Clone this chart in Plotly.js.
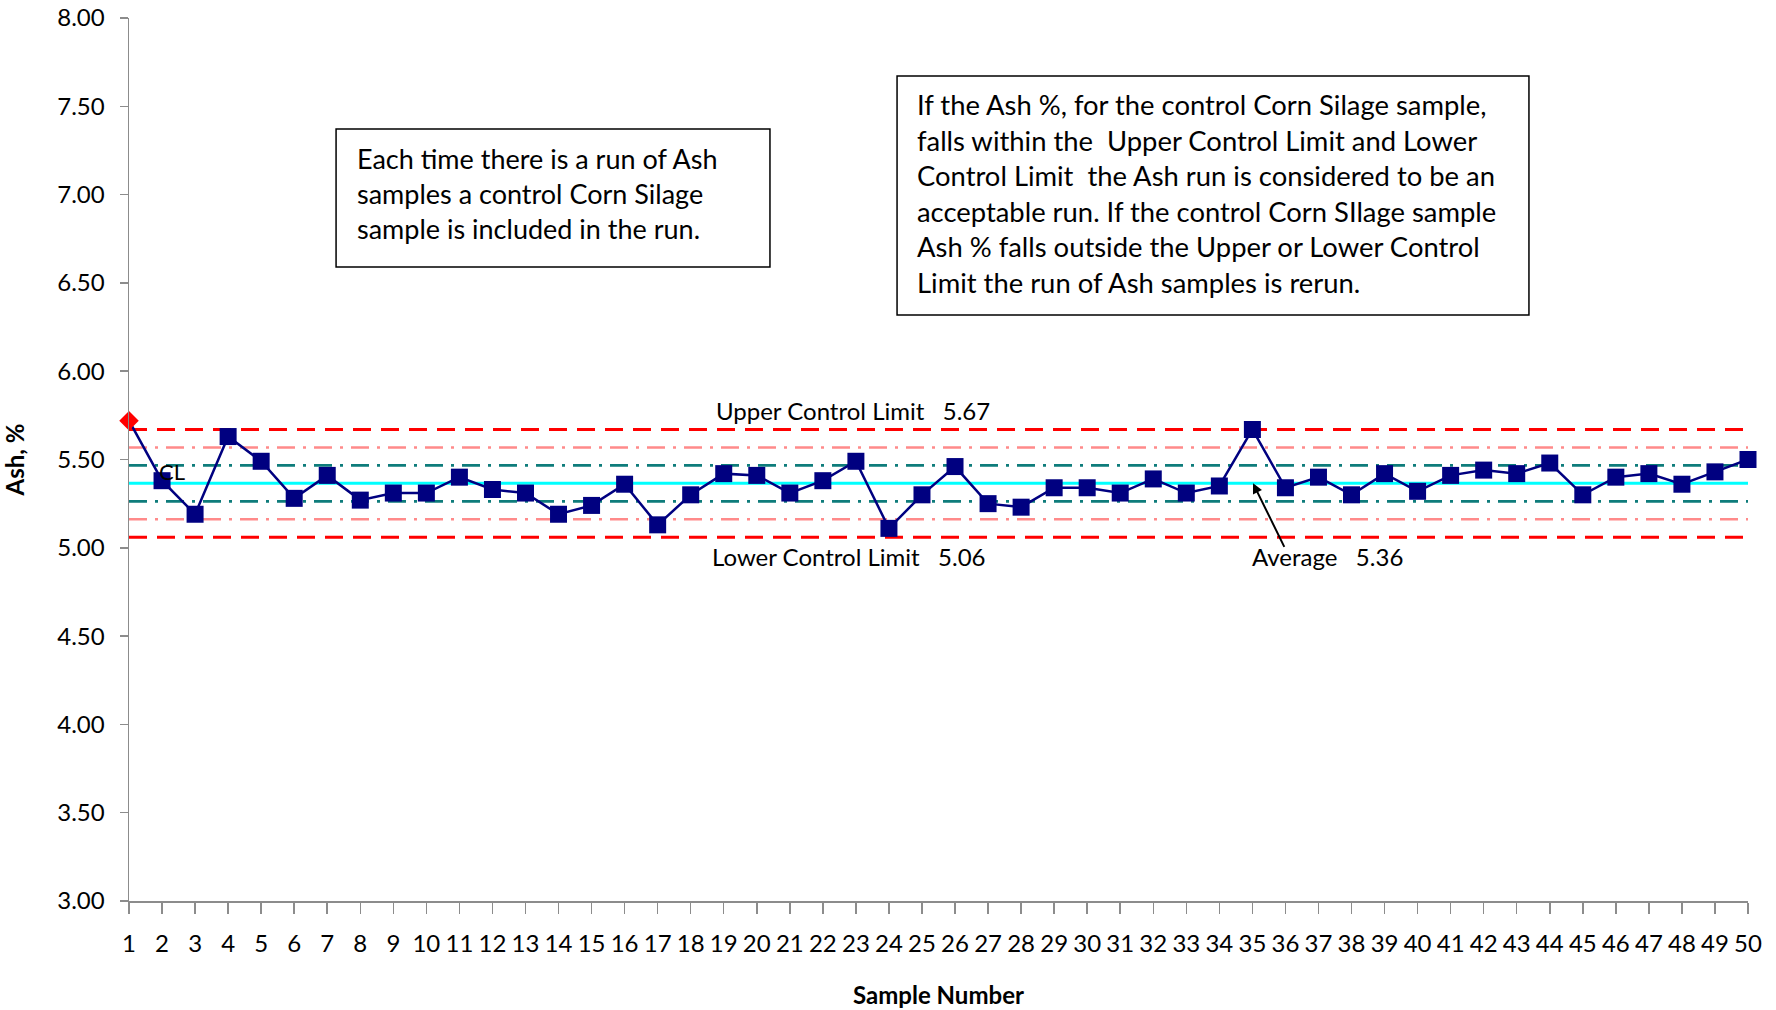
<!DOCTYPE html>
<html>
<head>
<meta charset="utf-8">
<script src="https://cdn.plot.ly/plotly-3.0.1.min.js"></script>
<style>
  html, body { margin: 0; padding: 0; background: #ffffff; }
  #chart { width: 1776px; height: 1010px; }
</style>
</head>
<body>
<div id="chart"></div>
<script>
// ---- data ----
const samples = [1,2,3,4,5,6,7,8,9,10,11,12,13,14,15,16,17,18,19,20,21,22,23,24,25,
                 26,27,28,29,30,31,32,33,34,35,36,37,38,39,40,41,42,43,44,45,46,47,48,49,50];
const ash = [5.72,5.38,5.19,5.63,5.49,5.28,5.41,5.27,5.31,5.31,
             5.40,5.33,5.31,5.19,5.24,5.36,5.13,5.30,5.42,5.41,
             5.31,5.38,5.49,5.11,5.30,5.46,5.25,5.23,5.34,5.34,
             5.31,5.39,5.31,5.35,5.67,5.34,5.40,5.30,5.42,5.32,
             5.41,5.44,5.42,5.48,5.30,5.40,5.42,5.36,5.43,5.50];
const average = 5.365;
const ucl = 5.67;
const lcl = 5.06;
const plus2s = 5.568;
const minus2s = 5.162;
const plus1s = 5.467;
const minus1s = 5.263;
const yTicks = [3.00,3.50,4.00,4.50,5.00,5.50,6.00,6.50,7.00,7.50,8.00];

const FONT = 'Lato, "Open Sans", sans-serif';
const flat = v => samples.map(() => v);

function limitTrace(v, color, dash, width) {
  return { x: samples, y: flat(v), type: 'scatter', mode: 'lines',
           line: { color: color, dash: dash, width: width }, hoverinfo: 'skip', showlegend: false };
}

const dashDot = '18px,8px,3px,8px';
const isOut = v => (v > ucl || v < lcl);
const traces = [
  limitTrace(plus2s, '#FF8A8A', dashDot, 2.5),
  limitTrace(minus2s, '#FF8A8A', dashDot, 2.5),
  limitTrace(plus1s, '#0E7C7B', dashDot, 2.7),
  limitTrace(minus1s, '#0E7C7B', dashDot, 2.7),
  limitTrace(ucl, '#FF0000', '18px,10px', 3),
  limitTrace(lcl, '#FF0000', '18px,10px', 3),
  limitTrace(average, '#00FFFF', 'solid', 3),
  {
    x: samples, y: ash, type: 'scatter', mode: 'lines+markers',
    line: { color: '#000080', width: 2.5 },
    marker: {
      symbol: ash.map(v => isOut(v) ? 'diamond' : 'square'),
      color: ash.map(v => isOut(v) ? '#FF0000' : '#000080'),
      size: ash.map(v => isOut(v) ? 15 : 17),
      opacity: 1,
      line: { width: 0 }
    },
    opacity: 1,
    cliponaxis: false, showlegend: false, hoverinfo: 'skip'
  }
];

const nb = '\u00a0';
const annFont = { family: FONT, size: 24, color: '#000000' };
const boxFont = { family: FONT, size: 27, color: '#000000' };

const layout = {
  width: 1776, height: 1010,
  margin: { l: 129, r: 28, t: 18, b: 109, pad: 0 },
  paper_bgcolor: '#ffffff', plot_bgcolor: '#ffffff',
  showlegend: false,
  font: { family: FONT, color: '#000000' },
  xaxis: {
    range: [1, 50], tickmode: 'array', tickvals: samples, ticktext: samples.map(String),
    tickangle: 0, showgrid: false, zeroline: false,
    showline: true, linecolor: '#8C8C8C', linewidth: 1.5,
    ticks: 'outside', ticklen: 11, tickwidth: 1.5, tickcolor: '#8C8C8C',
    tickfont: { family: FONT, size: 24, color: '#000000' },
    ticklabelstandoff: 10,
    title: { text: 'Sample Number', font: { family: FONT, size: 24, color: '#000000', weight: 'bold' }, standoff: 31 }
  },
  yaxis: {
    range: [3, 8], tickmode: 'array', tickvals: yTicks, ticktext: yTicks.map(v => v.toFixed(2)),
    showgrid: false, zeroline: false,
    showline: true, linecolor: '#8C8C8C', linewidth: 1.5,
    ticks: 'outside', ticklen: 8, tickwidth: 1.5, tickcolor: '#8C8C8C',
    tickfont: { family: FONT, size: 24, color: '#000000' },
    ticklabelstandoff: 10,
    title: { text: 'Ash, %', font: { family: FONT, size: 24, color: '#000000', weight: 'bold' }, standoff: 34 }
  },
  shapes: [
    { type: 'rect', xref: 'paper', yref: 'paper', x0: 0.1279, x1: 0.3959, y0: 0.718, y1: 0.8743,
      line: { color: '#000000', width: 1.5 }, fillcolor: 'rgba(0,0,0,0)' },
    { type: 'rect', xref: 'paper', yref: 'paper', x0: 0.4744, x1: 0.8647, y0: 0.6636, y1: 0.9343,
      line: { color: '#000000', width: 1.5 }, fillcolor: 'rgba(0,0,0,0)' }
  ],
  annotations: [
    { xref: 'paper', yref: 'paper', x: 0.1395, y: 0.8622, xanchor: 'left', yanchor: 'top', align: 'left',
      showarrow: false, font: boxFont,
      text: 'Each time there is a run of Ash<br>samples a control Corn Silage<br>sample is included in the run.' },
    { xref: 'paper', yref: 'paper', x: 0.4857, y: 0.9235, xanchor: 'left', yanchor: 'top', align: 'left',
      showarrow: false, font: { family: FONT, size: 27.4, color: '#000000' },
      text: 'If the Ash %, for the control Corn Silage sample,<br>falls within the ' + nb + 'Upper Control Limit and Lower<br>Control Limit ' + nb + 'the Ash run is considered to be an<br>acceptable run. If the control Corn SIlage sample<br>Ash % falls outside the Upper or Lower Control<br>Limit the run of Ash samples is rerun.' },
    { x: 18.71, y: 5.777, xanchor: 'left', yanchor: 'middle', showarrow: false, font: annFont,
      text: 'Upper Control Limit ' + nb + nb + ucl.toFixed(2) },
    { x: 18.59, y: 4.95, xanchor: 'left', yanchor: 'middle', showarrow: false, font: annFont,
      text: 'Lower Control Limit ' + nb + nb + lcl.toFixed(2) },
    { x: 34.93, y: 4.95, xanchor: 'left', yanchor: 'middle', showarrow: false, font: annFont,
      text: 'Average ' + nb + nb + '5.36' },
    { x: 35.02, y: average, ax: 32, ay: 65, text: '', showarrow: true,
      arrowhead: 2, arrowsize: 1, arrowwidth: 2, arrowcolor: '#000000' },
    { x: 2.3, y: 5.43, xanchor: 'center', yanchor: 'middle', showarrow: false,
      font: { family: FONT, size: 22, color: '#000000' }, text: 'CL' }
  ]
};

Plotly.newPlot('chart', traces, layout, { staticPlot: true, displayModeBar: false });
</script>
</body>
</html>
